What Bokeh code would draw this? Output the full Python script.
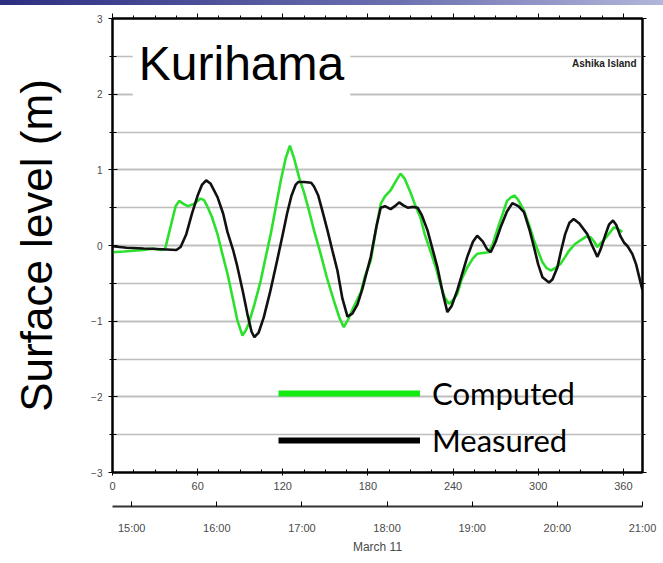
from bokeh.plotting import figure
from bokeh.models import (Range1d, LinearAxis, SingleIntervalTicker, FixedTicker,
                          Label, Legend, LegendItem, Div, CustomJSTickFormatter)
from bokeh.layouts import column
from bokeh.embed import file_html
from bokeh.resources import INLINE

# ---- data (minutes after 14:46, surface level in metres) ----
t_measured = [0, 10, 22, 35, 45, 48, 52, 56, 60, 63, 66, 69, 74, 78, 81, 85, 88, 92, 95, 98,
              100, 103, 106.6, 111, 116, 120, 123, 126, 129, 131, 135, 140, 142, 145, 148, 151.5,
              155, 158.5, 162, 165.6, 169, 172.6, 176, 182, 186, 189, 192, 196, 199, 202, 205,
              208, 212, 215, 218, 222, 229, 233, 236, 239, 243, 250, 254, 257, 261, 264, 266.5,
              270, 273.5, 278, 281.8, 286, 290, 294, 297, 300, 303, 307.6, 310, 313.5, 316, 319,
              322, 325, 329, 334.6, 338, 341.7, 344, 347.5, 350, 352.7, 355, 358, 360.4, 363,
              366.3, 369, 372, 373.5]
v_measured = [-0.01, -0.03, -0.04, -0.05, -0.06, -0.02, 0.15, 0.42, 0.66, 0.8, 0.86, 0.82, 0.64,
              0.42, 0.18, -0.06, -0.28, -0.62, -0.9, -1.14, -1.21, -1.15, -0.95, -0.62, -0.2,
              0.15, 0.42, 0.65, 0.8, 0.84, 0.84, 0.83, 0.78, 0.66, 0.45, 0.2, -0.07, -0.33, -0.7,
              -0.94, -0.9, -0.78, -0.58, -0.15, 0.25, 0.5, 0.52, 0.48, 0.52, 0.57, 0.53, 0.5,
              0.51, 0.5, 0.4, 0.2, -0.29, -0.65, -0.88, -0.8, -0.59, -0.15, 0.05, 0.13, 0.05,
              -0.05, -0.09, 0.05, 0.24, 0.45, 0.56, 0.52, 0.44, 0.2, -0.02, -0.25, -0.42, -0.49,
              -0.45, -0.29, -0.08, 0.15, 0.3, 0.35, 0.29, 0.15, 0.0, -0.15, -0.05, 0.15, 0.28,
              0.33, 0.27, 0.12, 0.04, -0.01, -0.11, -0.25, -0.48, -0.59]

t_computed = [0, 8, 15, 22, 29, 34, 37, 39, 42, 44.5, 47, 50, 53, 57.5, 62, 64.5, 67, 70, 74,
              77, 81, 85, 88, 91.6, 94, 96, 100, 104.5, 108, 111.5, 115, 118.6, 122, 125, 128,
              131.5, 135, 138.5, 142, 146.7, 151, 156, 160, 163, 166, 170, 175, 178, 182, 186,
              189, 192, 196, 200, 203, 206, 210, 213, 217, 220, 224, 228, 231, 234, 237, 240,
              243, 246, 250, 254, 257, 261, 265, 268, 271, 275, 278, 281, 283.4, 286, 290, 294,
              297, 300, 303, 306, 308.8, 312, 315.8, 319, 321.7, 326, 330, 334, 337, 339.5,
              341.7, 344, 346.3, 350, 353.4, 356, 359.3]
v_computed = [-0.09, -0.08, -0.07, -0.06, -0.04, -0.06, -0.05, 0.1, 0.33, 0.52, 0.59, 0.55,
              0.52, 0.55, 0.62, 0.6, 0.51, 0.38, 0.15, -0.08, -0.37, -0.72, -0.99, -1.19, -1.12,
              -1.03, -0.78, -0.46, -0.15, 0.15, 0.5, 0.86, 1.15, 1.32, 1.15, 0.9, 0.7, 0.46,
              0.2, -0.11, -0.42, -0.73, -0.96, -1.08, -0.98, -0.81, -0.62, -0.4, -0.2, 0.25,
              0.55, 0.65, 0.73, 0.86, 0.95, 0.88, 0.7, 0.55, 0.37, 0.15, -0.07, -0.3, -0.51,
              -0.68, -0.77, -0.72, -0.64, -0.45, -0.29, -0.17, -0.11, -0.1, -0.09, 0.02, 0.2,
              0.42, 0.59, 0.64, 0.66, 0.6, 0.46, 0.25, 0.07, -0.08, -0.22, -0.3, -0.33, -0.3,
              -0.24, -0.15, -0.07, 0.02, 0.07, 0.12, 0.11, 0.05, -0.02, 0.03, 0.07, 0.16, 0.24,
              0.22, 0.18]

y_ticks = [-3, -2, -1, 0, 1, 2, 3]
y_tick_labels = ["\u22123", "\u22122", "\u22121", "0", "1", "2", "3"]
hour_labels = ["15:00", "16:00", "17:00", "18:00", "19:00", "20:00", "21:00"]
minutes_to_first_hour = 13.5   # 14:46:30 -> 15:00
x_end = 373.5                   # 21:00
hour_ticks = [minutes_to_first_hour + 60 * i for i in range(len(hour_labels))]

TXT = "#4a4a4a"
FONT = "Liberation Sans"
NAN = float("nan")

p = figure(width=663, height=558, x_range=Range1d(0, x_end), y_range=Range1d(-3, 3),
           output_backend="svg", toolbar_location=None,
           min_border_left=112, min_border_right=21, min_border_top=13, min_border_bottom=91)
p.outline_line_color = "black"
p.outline_line_width = 2
p.background_fill_color = "white"
p.border_fill_color = "white"

# grids
p.xgrid.grid_line_color = None
p.ygrid.ticker = SingleIntervalTicker(interval=1, num_minor_ticks=2)
p.ygrid.grid_line_color = "#bdbdbd"
p.ygrid.grid_line_width = 1.5
p.ygrid.minor_grid_line_color = "#bdbdbd"
p.ygrid.minor_grid_line_width = 1.5

# left axis
ya = p.yaxis[0]
ya.ticker = SingleIntervalTicker(interval=1, num_minor_ticks=2)
ya.major_label_overrides = {k: s for k, s in zip(y_ticks, y_tick_labels)}
ya.axis_line_width = 2
ya.major_tick_in = 5
ya.major_tick_out = 4
ya.minor_tick_in = 4
ya.minor_tick_out = 3
ya.major_label_text_font = FONT
ya.major_label_text_font_size = "10px"
ya.major_label_text_color = TXT
ya.major_label_standoff = 6
ya.axis_label = "Surface level (m)"
ya.axis_label_text_font = FONT
ya.axis_label_text_font_size = "44px"
ya.axis_label_text_font_style = "normal"
ya.axis_label_text_color = "black"
ya.axis_label_standoff = 27

# bottom axis (minutes)
xa = p.xaxis[0]
xa.ticker = SingleIntervalTicker(interval=60, num_minor_ticks=4)
xa.axis_line_width = 2
xa.major_tick_in = 4
xa.major_tick_out = 3
xa.minor_tick_in = 3
xa.minor_tick_out = 0
xa.major_label_text_font = FONT
xa.major_label_text_font_size = "11px"
xa.major_label_text_color = TXT
xa.major_label_standoff = 6
xa.axis_label = " "
xa.axis_label_text_font_size = "8px"
xa.axis_label_standoff = 2

# time-of-day axis
ta = LinearAxis(ticker=FixedTicker(ticks=hour_ticks),
                major_label_overrides={k: s for k, s in zip(hour_ticks, hour_labels)})
ta.axis_line_width = 2
ta.axis_line_color = "#333333"
ta.major_tick_in = 5
ta.major_tick_out = 0
ta.minor_tick_line_color = None
ta.major_label_text_font = FONT
ta.major_label_text_font_size = "11px"
ta.major_label_text_color = TXT
ta.major_label_standoff = 15
ta.axis_label = "March 11"
ta.axis_label_text_font = FONT
ta.axis_label_text_font_size = "12px"
ta.axis_label_text_font_style = "normal"
ta.axis_label_text_color = TXT
ta.axis_label_standoff = 3
p.add_layout(ta, "below")

# top and right axes (ticks only)
blank = CustomJSTickFormatter(code="return ''")
top = LinearAxis(ticker=SingleIntervalTicker(interval=60, num_minor_ticks=4), formatter=blank)
top.major_tick_in = 0
top.major_tick_out = 5
top.minor_tick_in = 0
top.minor_tick_out = 3
top.axis_line_width = 2
p.add_layout(top, "above")

right = LinearAxis(ticker=SingleIntervalTicker(interval=1, num_minor_ticks=2),
                   formatter=CustomJSTickFormatter(code="return ''"))
right.major_tick_in = 0
right.major_tick_out = 4
right.minor_tick_in = 0
right.minor_tick_out = 3
right.axis_line_width = 2
p.add_layout(right, "right")

# series
rg = p.line(t_computed, v_computed, line_color="#2ee02e", line_width=2.6)
rb = p.line(t_measured, v_measured, line_color="#111111", line_width=2.6)

# legend glyphs (thick swatches, no visible data)
lg = p.line(x=[NAN], y=[NAN], line_color="#12ea12", line_width=6)
lb = p.line(x=[NAN], y=[NAN], line_color="black", line_width=6)
legend = Legend(items=[LegendItem(label="Computed", renderers=[lg]),
                       LegendItem(label="Measured", renderers=[lb])],
                location=(166, 12), glyph_width=142, glyph_height=40, spacing=7,
                label_standoff=12, padding=0, margin=0,
                border_line_color=None, background_fill_alpha=0,
                label_text_font="Lato", label_text_font_size="31px",
                label_text_color="black")
p.add_layout(legend, "center")

# labels
p.add_layout(Label(x=14.3, y=2.40, text="Kurihama", text_font=FONT, text_font_size="48px",
                   text_color="black", text_baseline="alphabetic",
                   background_fill_color="white", padding=6))
p.add_layout(Label(x=x_end, y=2.40, x_offset=-6, text="Ashika Island", text_font=FONT,
                   text_font_size="10px", text_font_style="bold", text_color="#222222",
                   text_align="right", text_baseline="middle"))

band = Div(text="", width=663, height=5, margin=0,
           styles={"background": "linear-gradient(to right, #2c2f80, #6c70b0 60%, #b2b6da)"})

layout = column(band, p, spacing=0)
open("out.html", "w").write(file_html(layout, INLINE))
